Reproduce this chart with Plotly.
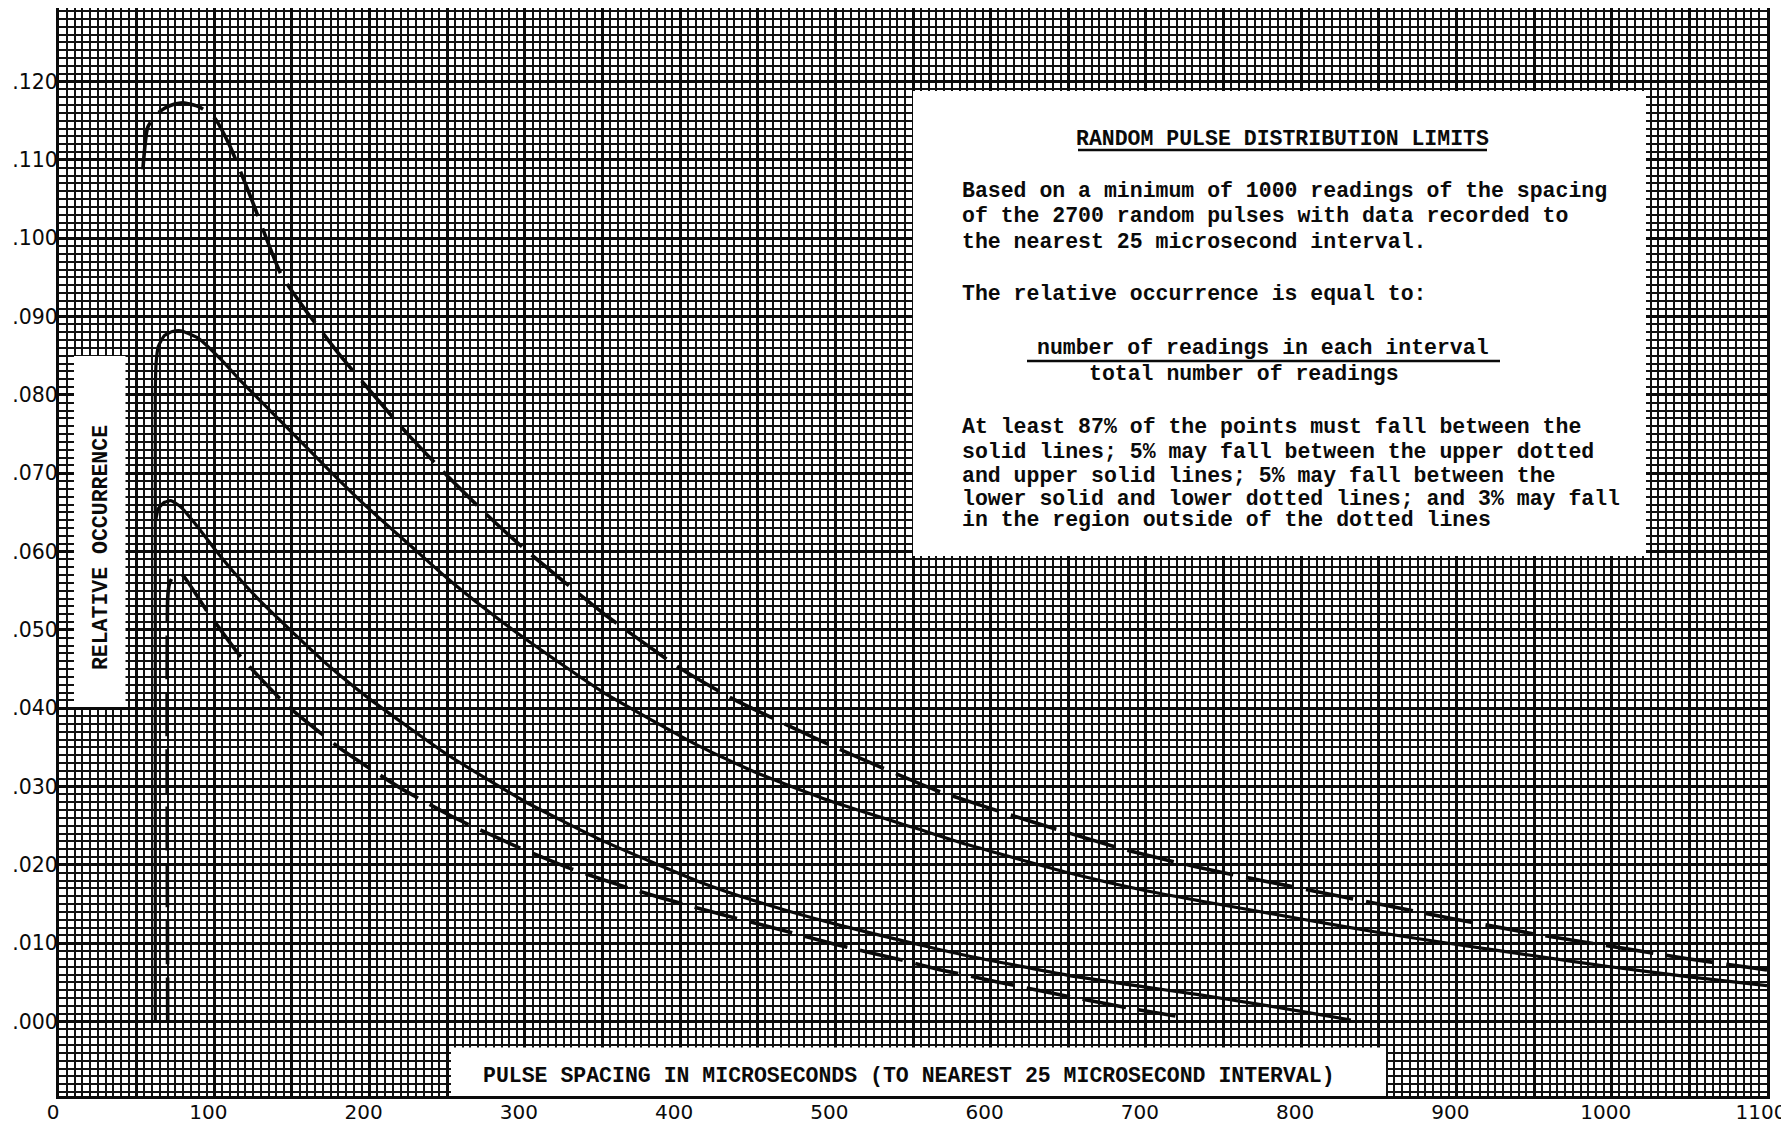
import plotly.graph_objects as go

# ---------------- data ----------------
x_tick_vals = list(range(0, 1101, 100))
x_tick_text = [str(v) for v in x_tick_vals]
y_tick_vals = [i / 1000 for i in range(0, 121, 10)]
y_tick_text = [".000", ".010", ".020", ".030", ".040", ".050", ".060",
               ".070", ".080", ".090", ".100", ".110", ".120"]

# upper dotted (dashed) limit
ud_x = [54, 57, 62, 68, 74, 80, 90, 100, 110, 123, 143, 160, 180, 200, 225, 250,
        275, 300, 350, 400, 434, 500, 564, 622, 682, 714, 750, 800, 850, 896,
        950, 1000, 1050, 1100]
ud_y = [.1088, .1141, .1157, .1166, .1171, .1173, .1168, .1154, .1118, .1055, .0954,
        .0905, .0853, .0806, .0749, .0697, .0648, .0603, .0522, .0451, .0412, .0350,
        .0296, .0258, .0222, .0206, .0190, .0170, .0150, .0132, .0112, .0096,
        .0080, .0066]

# upper solid limit
us_x = [62, 62, 62.5, 64, 68, 73, 78.5, 90, 104, 117, 130, 145, 162, 180, 200, 225,
        250, 275, 300, 350, 413, 450, 499, 550, 585, 650, 700, 735, 800, 849,
        898, 950, 999, 1050, 1100]
us_y = [0, .0800, .0840, .0862, .0876, .0881, .0882, .0872, .0846, .0818, .0792,
        .0762, .0728, .0692, .0654, .0610, .0566, .0526, .0489, .0421, .0351,
        .0317, .0280, .0248, .0226, .0190, .0167, .0154, .0131, .0114, .0099,
        .0084, .0070, .0057, .0046]

# lower solid limit
ls_x = [62.3, 64, 68, 72, 78, 86.7, 100, 112.4, 130, 151, 175, 200, 250, 300, 350,
        413, 450, 499, 550, 585, 650, 700, 735, 770, 800, 832]
ls_y = [.0640, .0655, .0663, .0665, .0658, .0638, .0604, .0574, .0536, .0496,
        .0452, .0412, .0341, .0281, .0231, .0178, .0153, .0125, .0100, .0084,
        .0059, .0044, .0034, .0023, .0013, .0002]

# lower dotted (dashed) limit
ld_x = [70, 70, 71, 73, 76, 80, 95, 117, 146, 183, 220, 256, 293, 330, 374, 413,
        469, 499, 542, 568, 606, 653, 690, 719]
ld_y = [0, .0540, .0558, .0567, .0572, .0569, .0525, .0466, .0405, .0346, .0298,
        .0259, .0225, .0195, .0166, .0144, .0115, .0099, .0079, .0066, .0050,
        .0031, .0017, .0007]

# ---------------- layout geometry ----------------
# The page body has an 8px margin, so the figure is placed 8px in from the
# top-left corner of the window; geometry below is given in window pixels.
OFF = 8
W, H = 1789 - OFF, 1129 - OFF
PLOT_L, PLOT_R, PLOT_T, PLOT_B = 59, 1767, OFF, 1096      # window pixels
ML, MR, MT, MB = PLOT_L - OFF, 1789 - PLOT_R, PLOT_T - OFF, 1129 - PLOT_B


def px(xp):
    return (xp - PLOT_L) / (PLOT_R - PLOT_L)


def py(yp):
    return (PLOT_B - yp) / (PLOT_B - PLOT_T)


INK = "#0a0a0a"
MONO = "Liberation Mono, Courier New, monospace"

fig = go.Figure()
for xs, ys, dash, w in [
    (ud_x, ud_y, "48px,13px", 3.6),
    (us_x, us_y, "solid", 3.2),
    (ls_x, ls_y, "solid", 3.2),
    (ld_x, ld_y, "44px,13px", 3.6),
]:
    fig.add_trace(go.Scatter(x=xs, y=ys, mode="lines",
                             line=dict(color=INK, width=w, dash=dash, shape="spline",
                                       smoothing=0.5),
                             showlegend=False, hoverinfo="skip"))

shapes = [
    # text box
    dict(type="rect", xref="paper", yref="paper", x0=px(913), x1=px(1646),
         y0=py(556), y1=py(91), fillcolor="white", line=dict(width=0), layer="above"),
    # y title box
    dict(type="rect", xref="paper", yref="paper", x0=px(74), x1=px(125.5),
         y0=py(707), y1=py(356), fillcolor="white", line=dict(width=0), layer="above"),
    # x title box
    dict(type="rect", xref="paper", yref="paper", x0=px(451), x1=px(1386),
         y0=0.0, y1=py(1047.5), fillcolor="white", line=dict(width=0), layer="above"),
    # fraction bar
    dict(type="line", xref="paper", yref="paper", x0=px(1027), x1=px(1500),
         y0=py(361), y1=py(361), line=dict(color=INK, width=2.5), layer="above"),
    # title underline
    dict(type="line", xref="paper", yref="paper", x0=px(1078), x1=px(1487),
         y0=py(150), y1=py(150), line=dict(color=INK, width=2.5), layer="above"),
]
fig.update_layout(shapes=shapes)

tfont = dict(family=MONO, size=21.5, color=INK, weight="bold")
ann = []


def add_text(text, xp, yp, xanchor="left", angle=0):
    ann.append(dict(text=text, xref="paper", yref="paper", x=px(xp), y=py(yp),
                    xanchor=xanchor, yanchor="middle", showarrow=False,
                    font=tfont, textangle=angle))


add_text("RANDOM PULSE DISTRIBUTION LIMITS", 1282.5, 139, "center")
body = [
    ("Based on a minimum of 1000 readings of the spacing", 190.5),
    ("of the 2700 random pulses with data recorded to", 215.6),
    ("the nearest 25 microsecond interval.", 241.9),
    ("The relative occurrence is equal to:", 294.4),
    ("At least 87% of the points must fall between the", 426.7),
    ("solid lines; 5% may fall between the upper dotted", 452),
    ("and upper solid lines; 5% may fall between the", 476),
    ("lower solid and lower dotted lines; and 3% may fall", 498.6),
    ("in the region outside of the dotted lines", 520.3),
]
for t, yp in body:
    add_text(t, 959.6, yp)
add_text("number of readings in each interval", 1263, 348, "center")
add_text("total number of readings", 1244, 374, "center")
add_text("RELATIVE OCCURRENCE", 100.4, 547.7, "center", -90)
add_text("PULSE SPACING IN MICROSECONDS (TO NEAREST 25 MICROSECOND INTERVAL)",
         909, 1076, "center")
fig.update_layout(annotations=ann)

x_major = list(range(0, 1101, 50))
fig.update_xaxes(range=[0, 1100], tickmode="array",
                 tickvals=x_major,
                 ticktext=[x_tick_text[i // 2] if i % 2 == 0 else ""
                           for i in range(len(x_major))],
                 showgrid=True, gridcolor=INK, gridwidth=2.6,
                 minor=dict(tickmode="linear", tick0=0, dtick=5, showgrid=True,
                            gridcolor="#111111", gridwidth=1.5, ticklen=0),
                 showline=True, linecolor=INK, linewidth=3, mirror=True,
                 zeroline=False, ticks="", ticklen=0,
                 tickfont=dict(family="DejaVu Sans", size=20, color=INK),
                 ticklabelstandoff=-4, ticklabelshift=-6, ticklabeloverflow="allow",
                 automargin=False, fixedrange=True)
fig.update_yaxes(range=[-0.0095, 0.1294], tickmode="array",
                 tickvals=y_tick_vals, ticktext=y_tick_text,
                 showgrid=True, gridcolor=INK, gridwidth=2.6,
                 minor=dict(tickmode="linear", tick0=0, dtick=0.001, showgrid=True,
                            gridcolor="#111111", gridwidth=1.5, ticklen=0),
                 showline=True, linecolor=INK, linewidth=3, mirror=True,
                 zeroline=False, ticks="", ticklen=0,
                 tickfont=dict(family="DejaVu Sans", size=20.5, color=INK),
                 ticklabelstandoff=-6, ticklabeloverflow="allow",
                 automargin=False, fixedrange=True)
fig.update_layout(width=W, height=H,
                  margin=dict(l=ML, r=MR, t=MT, b=MB, pad=0, autoexpand=False),
                  paper_bgcolor="white", plot_bgcolor="white")
fig.write_html("out.html")
